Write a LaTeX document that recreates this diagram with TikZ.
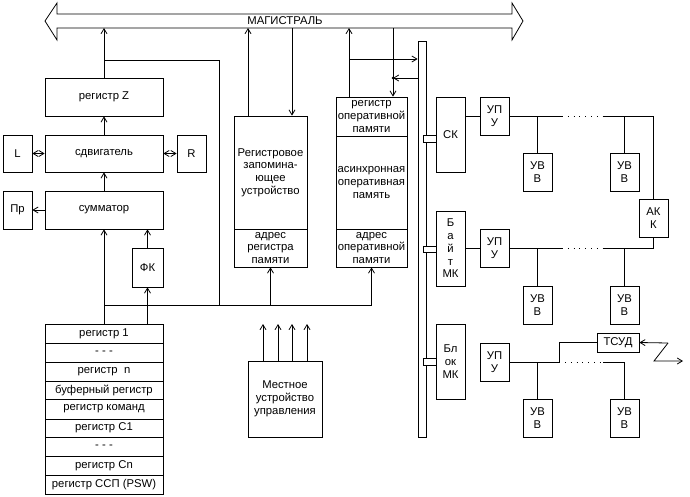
\documentclass[tikz,border=0pt]{standalone}
\usepackage{fontspec}
\setmainfont{Liberation Sans}
\usetikzlibrary{arrows.meta}
\newcommand\mybox[6]{\node[box, minimum width={#4-#2}, minimum height={#5-#3}] (#1) at ({(#2+#4)/2},{(#3+#5)/2}) {#6};}
\begin{document}
\begin{tikzpicture}[x=1pt,y=-1pt, line width=0.8pt,
  every node/.style={font=\fontsize{11.3}{12.8}\selectfont},
  box/.style={draw, rectangle, inner sep=0pt, align=center, fill=white},
  arr/.style={-{Straight Barb[length=5pt,width=6pt]}},
  darr/.style={{Straight Barb[length=5pt,width=6pt]}-{Straight Barb[length=5pt,width=6pt]}},
  dots/.style={dash pattern=on 0.8pt off 5pt}]
\useasboundingbox (0,0) rectangle (690,496);

% bus
\draw (57,14) -- (512,14) -- (512,3) -- (523,21) -- (512,40) -- (512,28) -- (57,28) -- (57,40) -- (45,21) -- (57,3) -- cycle;
\node (busl) at (285,21) {МАГИСТРАЛЬ};
\coordinate (busb) at (0,28);

% left column
\mybox{Z}{45}{78}{163}{116}{регистр Z}
\mybox{sdv}{45}{135}{163}{172}{сдвигатель}
\mybox{L}{3}{135}{32}{172}{L}
\mybox{R}{177}{135}{206}{172}{R}
\mybox{sum}{45}{191}{163}{229}{сумматор}
\mybox{Pr}{3}{191}{32}{229}{Пр}
\mybox{FK}{132}{248}{163}{287}{ФК}

\mybox{r1}{45}{324}{163}{343}{регистр 1}
\mybox{r2}{45}{343}{163}{362}{- - -}
\mybox{r3}{45}{362}{163}{381}{регистр\ \ n}
\mybox{r4}{45}{381}{163}{399}{буферный регистр}
\mybox{r5}{45}{399}{163}{419}{регистр команд}
\mybox{r6}{45}{419}{163}{437}{регистр С1}
\mybox{r7}{45}{437}{163}{456}{- - -}
\mybox{r8}{45}{456}{163}{475}{регистр Cn}
\mybox{r9}{45}{475}{163}{494}{регистр ССП (PSW)}

% memories
\mybox{RZU}{234}{116}{307}{229}{Регистровое\\запомина-\\ющее\\устройство}
\mybox{RZUa}{234}{229}{307}{267}{адрес\\регистра\\памяти}
\mybox{OPr}{336}{97}{407}{136}{регистр\\оперативной\\памяти}
\mybox{OP}{336}{136}{407}{229}{асинхронная\\оперативная\\память}
\mybox{OPa}{336}{229}{407}{267}{адрес\\оперативной\\памяти}
\mybox{MUU}{248}{361}{322}{437}{Местное\\устройство\\управления}

% system bar
\mybox{bar}{418}{41}{426}{437}{}
\mybox{s1}{423}{135}{436}{142}{}
\mybox{s2}{423}{246}{436}{252}{}
\mybox{s3}{423}{358}{436}{365}{}

% right side
\mybox{SK}{436}{97}{465}{172}{СК}
\mybox{UPU1}{480}{97}{509}{135}{УП\\У}
\mybox{UVa}{523}{153}{552}{191}{УВ\\В}
\mybox{UVb}{610}{153}{639}{191}{УВ\\В}
\mybox{AKK}{639}{199}{668}{237}{АК\\К}
\mybox{BMK}{436}{211}{465}{286}{Б\\а\\й\\т\\МК}
\mybox{UPU2}{480}{229}{509}{267}{УП\\У}
\mybox{UVc}{523}{286}{552}{324}{УВ\\В}
\mybox{UVd}{610}{286}{639}{324}{УВ\\В}
\mybox{BlMK}{436}{324}{465}{399}{Бл\\ок\\МК}
\mybox{UPU3}{480}{343}{509}{381}{УП\\У}
\mybox{TSUD}{597}{333}{639}{352}{ТСУД}
\mybox{UVe}{523}{399}{552}{437}{УВ\\В}
\mybox{UVf}{610}{399}{639}{437}{УВ\\В}

% left connectors
\draw[arr] (Z.north) -- (Z.north |- busb);
\coordinate (j1) at (104,60);
\coordinate (j2) at (219,60);
\coordinate (h) at (104,305);
\draw (j1) -- (j2) -- (j2 |- h);
\draw[arr] (sdv.north) -- (Z.south);
\draw[darr] (L.east) -- (sdv.west);
\draw[darr] (sdv.east) -- (R.west);
\draw[arr] (sum.north) -- (sdv.south);
\draw[arr] (sum.west) -- (Pr.east);
\draw[arr] (r1.north) -- (sum.south);
\draw[arr] (r1.north -| FK.south) -- (FK.south);
\draw[arr] (FK.north) -- (FK.north |- sum.south);
\draw (h) -- (OPa.south |- h);
\draw[arr] (RZUa.south |- h) -- (RZUa.south);
\draw[arr] (OPa.south |- h) -- (OPa.south);

% memory to bus
\draw[arr] (248,0 |- RZU.north) -- (248,0 |- busb);
\draw[arr] (292,0 |- busb) -- (292,0 |- RZU.north);
\draw[arr] (349,0 |- OPr.north) -- (349,0 |- busb);
\draw[arr] (393,0 |- busb) -- (393,0 |- OPr.north);
\draw[arr] (349,59) -- (bar.west |- 0,59);
\draw[arr] (bar.west |- 0,78) -- (393,78);
\fill (393,78) circle (1.3);

% MUU arrows
\foreach \xx in {263,278,292,307}
  \draw[arr] (\xx,0 |- MUU.north) -- (\xx,324);

% row 1
\draw (UPU1.west -| SK.east) -- (UPU1.west);
\draw (UPU1.east) -- (562,116);
\draw[dots] (562,116) -- (603,116);
\draw (603,116) -| (AKK.north);
\draw (UVa.north |- UPU1.east) -- (UVa.north);
\draw (UVb.north |- UPU1.east) -- (UVb.north);
% row 2
\draw (UPU2.west -| BMK.east) -- (UPU2.west);
\draw (UPU2.east) -- (562,248);
\draw[dots] (562,248) -- (603,248);
\draw (603,248) -| (AKK.south);
\draw (UVc.north |- UPU2.east) -- (UVc.north);
\draw (UVd.north |- UPU2.east) -- (UVd.north);
% row 3
\draw (UPU3.east) -- (559,362) |- (TSUD.west);
\draw[dots] (565,362) -- (603,362);
\draw (603,362) -| (UVf.north);
\draw (UVe.north |- UPU3.east) -- (UVe.north);
\coordinate (z1) at (668,343);
\coordinate (z2) at (654,361);
\coordinate (z3) at (683,361);
\draw[arr] (z1) -- (TSUD.east);
\draw[arr] (z1) -- (z2) -- (z3);
\end{tikzpicture}
\end{document}
